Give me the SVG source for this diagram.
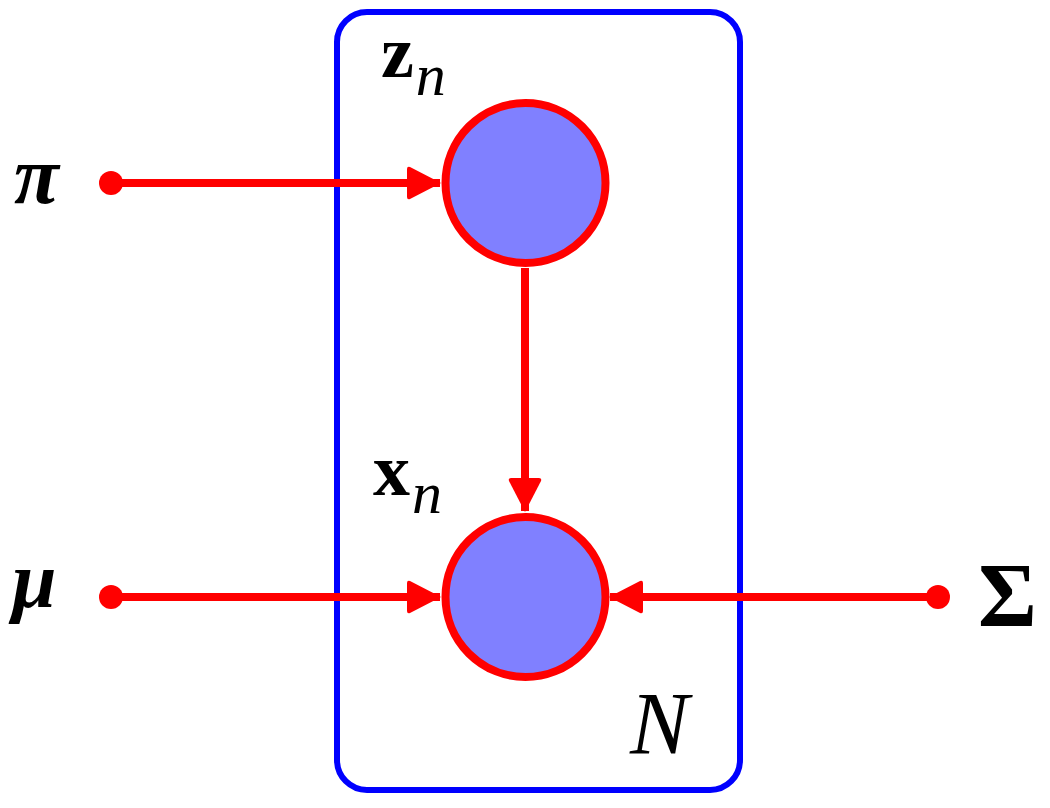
<svg xmlns="http://www.w3.org/2000/svg" width="1050" height="808" viewBox="0 0 1050 808">
<style>
.edge{stroke:#ff0000;stroke-width:8;fill:none}
.node{fill:#8080ff;stroke:#ff0000;stroke-width:8}
.dot{fill:#ff0000}
.lbl{font-family:"Liberation Serif","Times New Roman",serif;fill:#000}
.sub{font-weight:normal;font-style:italic;font-size:60px}
</style>
<defs>
<marker id="ah" viewBox="0 0 34 34" refX="33" refY="17" markerWidth="34" markerHeight="34" markerUnits="userSpaceOnUse" orient="auto">
<path d="M0,3 Q0,0 3,1 L34,17 L3,33 Q0,34 0,31 Z" fill="#ff0000"/>
</marker>
</defs>
<g id="plate">
<rect x="337" y="12" width="403" height="778" rx="30" ry="30" fill="none" stroke="#0000ff" stroke-width="6"/>
<text class="lbl" x="630" y="753" font-size="88" font-style="italic">N</text>
</g>
<g id="connectors">
<line class="edge" x1="111" y1="183" x2="440" y2="183" marker-end="url(#ah)"/>
<line class="edge" x1="525" y1="268" x2="525" y2="511" marker-end="url(#ah)"/>
<line class="edge" x1="111" y1="597" x2="440" y2="597" marker-end="url(#ah)"/>
<line class="edge" x1="938" y1="597" x2="610" y2="597" marker-end="url(#ah)"/>
</g>
<g id="z">
<circle class="node" cx="525.5" cy="183" r="80"/>
<text class="lbl" x="381" y="77" font-size="74" font-weight="bold">z<tspan class="sub" dx="2" dy="18">n</tspan></text>
</g>
<g id="x">
<circle class="node" cx="525.5" cy="597" r="80"/>
<text class="lbl" x="373" y="495" font-size="74" font-weight="bold">x<tspan class="sub" dx="2" dy="18">n</tspan></text>
</g>
<g id="pi">
<circle class="dot" cx="111" cy="183" r="12"/>
<text class="lbl" x="14" y="203" font-size="82" font-weight="bold" font-style="italic">π</text>
</g>
<g id="mu">
<circle class="dot" cx="111" cy="597" r="12"/>
<text class="lbl" x="12" y="607" font-size="80" font-weight="bold" font-style="italic">μ</text>
</g>
<g id="sigma">
<circle class="dot" cx="938" cy="597" r="12"/>
<text class="lbl" x="978" y="626" font-size="90" font-weight="bold">Σ</text>
</g>
</svg>
